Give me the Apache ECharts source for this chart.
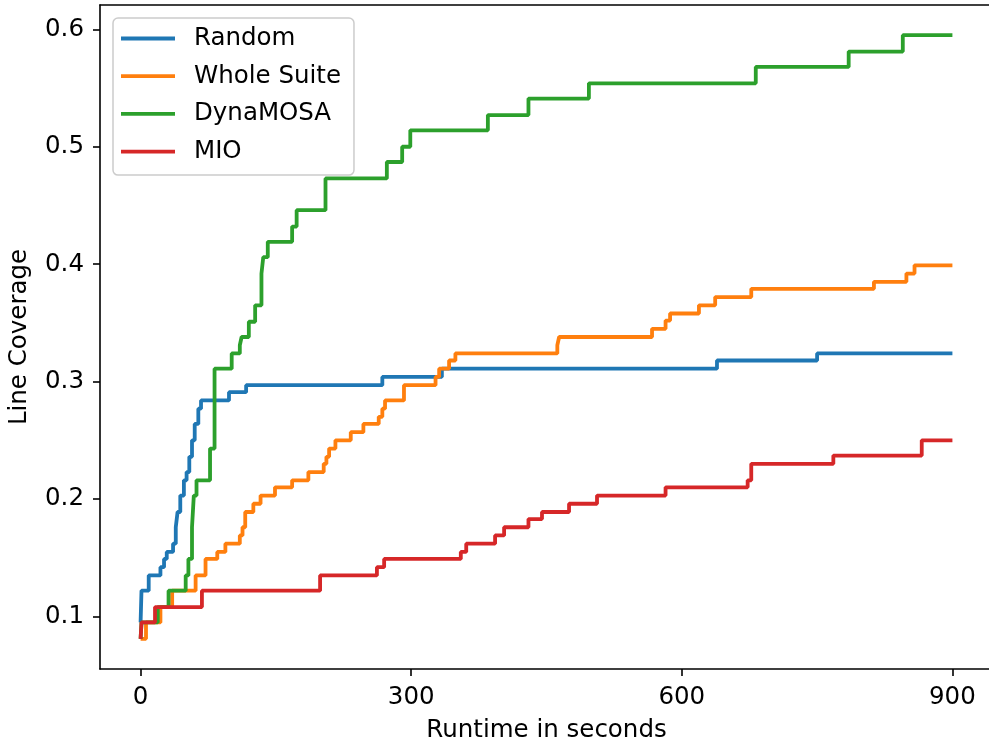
<!DOCTYPE html>
<html>
<head>
<meta charset="utf-8">
<script src="https://cdn.jsdelivr.net/npm/echarts@6/dist/echarts.min.js"></script>
<style>
  html, body { margin: 0; padding: 0; background: #fff; }
  #chart { width: 989px; height: 747px; }
</style>
</head>
<body>
<div id="chart"></div>
<script>
// series names and colours (matplotlib tab10)
var seriesNames = ['Random', 'Whole Suite', 'DynaMOSA', 'MIO'];
var seriesColors = ['#1f77b4', '#ff7f0e', '#2ca02c', '#d62728'];

// time (s) at which each coverage value starts (step, post)
var randomT = [0, 1, 9, 22, 26, 29, 36, 39, 41, 44, 48, 51, 54, 57, 60, 64, 67, 98, 117, 268, 334, 639, 750, 900];
var randomV = [0.095, 0.122, 0.135, 0.142, 0.149, 0.155, 0.162, 0.176, 0.189, 0.203, 0.216, 0.223, 0.236, 0.250, 0.264, 0.277, 0.284, 0.291, 0.297, 0.304, 0.311, 0.318, 0.324, 0.324];

var wholeT = [0, 6, 22, 35, 61, 72, 85, 94, 110, 113, 116, 125, 133, 149, 168, 186, 203, 206, 209, 216, 233, 247, 264, 268, 271, 292, 327, 331, 342, 349, 462, 464, 567, 582, 587, 619, 637, 677, 813, 849, 858, 900];
var wholeV = [0.081, 0.095, 0.108, 0.122, 0.135, 0.149, 0.155, 0.162, 0.169, 0.176, 0.189, 0.196, 0.203, 0.210, 0.216, 0.223, 0.230, 0.236, 0.243, 0.250, 0.257, 0.264, 0.270, 0.277, 0.284, 0.297, 0.304, 0.311, 0.318, 0.324, 0.331, 0.338, 0.345, 0.352, 0.358, 0.365, 0.372, 0.379, 0.385, 0.392, 0.399, 0.399];

var dynaT = [0, 1, 19, 31, 50, 53, 57, 59, 62, 77, 82, 101, 110, 112, 120, 127, 134, 136, 141, 168, 173, 205, 273, 290, 299, 385, 430, 497, 682, 785, 845, 900];
var dynaV = [0.081, 0.095, 0.108, 0.122, 0.135, 0.149, 0.176, 0.203, 0.216, 0.243, 0.311, 0.324, 0.331, 0.338, 0.351, 0.365, 0.392, 0.406, 0.419, 0.432, 0.446, 0.473, 0.487, 0.500, 0.514, 0.527, 0.541, 0.554, 0.568, 0.581, 0.595, 0.595];

var mioT = [0, 1, 16, 68, 199, 262, 270, 355, 361, 393, 403, 430, 445, 475, 506, 582, 673, 677, 768, 866, 900];
var mioV = [0.081, 0.095, 0.108, 0.122, 0.135, 0.142, 0.149, 0.155, 0.162, 0.169, 0.176, 0.183, 0.189, 0.196, 0.203, 0.210, 0.216, 0.230, 0.237, 0.250, 0.250];

var xTicks = [0, 300, 600, 900];
var yTicks = [0.1, 0.2, 0.3, 0.4, 0.5, 0.6];

var font = 'DejaVu Sans';
var fs = 24.5;

function pairs(t, v) {
  return t.map(function (x, i) { return [x, v[i]]; });
}

var seriesData = [pairs(randomT, randomV), pairs(wholeT, wholeV), pairs(dynaT, dynaV), pairs(mioT, mioV)];

var spine = { show: true, onZero: false, lineStyle: { color: '#000', width: 1.6 } };

var chart = echarts.init(document.getElementById('chart'));

chart.setOption({
  animation: false,
  backgroundColor: '#fff',
  grid: { left: 100, top: 5, width: 893, height: 664, show: false, outerBoundsMode: 'none' },
  legend: {
    orient: 'vertical',
    left: 113, top: 18,
    icon: 'rect',
    itemWidth: 54, itemHeight: 3.8,
    itemGap: 12.7,
    padding: [8, 13, 11, 8],
    backgroundColor: 'rgba(255,255,255,0.8)',
    borderColor: '#cccccc', borderWidth: 1.5, borderRadius: 5,
    textStyle: { fontFamily: font, fontSize: fs, color: '#000', lineHeight: 24, padding: [0, 0, 0, 14] },
    data: seriesNames
  },
  xAxis: [{
    type: 'value',
    min: -45, max: 945,
    name: 'Runtime in seconds',
    nameLocation: 'middle',
    nameGap: 49,
    nameTextStyle: { fontFamily: font, fontSize: fs, color: '#000' },
    axisLine: spine,
    axisTick: { show: true, length: 7, lineStyle: { color: '#000', width: 1.6 }, customValues: xTicks },
    axisLabel: { fontFamily: font, fontSize: fs, color: '#000', margin: 16, customValues: xTicks },
    splitLine: { show: false }
  }, {
    // top spine only
    type: 'value',
    position: 'top',
    min: -45, max: 945,
    axisLine: spine,
    axisTick: { show: false },
    axisLabel: { show: false },
    splitLine: { show: false }
  }],
  yAxis: {
    type: 'value',
    min: 0.0553, max: 0.6207,
    name: 'Line Coverage',
    nameLocation: 'middle',
    nameGap: 68,
    nameTextStyle: { fontFamily: font, fontSize: fs, color: '#000' },
    axisLine: spine,
    axisTick: { show: true, length: 7, lineStyle: { color: '#000', width: 1.6 }, customValues: yTicks },
    axisLabel: {
      fontFamily: font, fontSize: fs, color: '#000', margin: 16, customValues: yTicks,
      formatter: function (v) { return v.toFixed(1); }
    },
    splitLine: { show: false }
  },
  series: seriesNames.map(function (name, i) {
    return {
      name: name,
      type: 'line',
      step: 'end',
      showSymbol: false,
      symbol: 'none',
      color: seriesColors[i],
      lineStyle: { width: 3.8, color: seriesColors[i] },
      data: seriesData[i]
    };
  })
});
</script>
</body>
</html>
